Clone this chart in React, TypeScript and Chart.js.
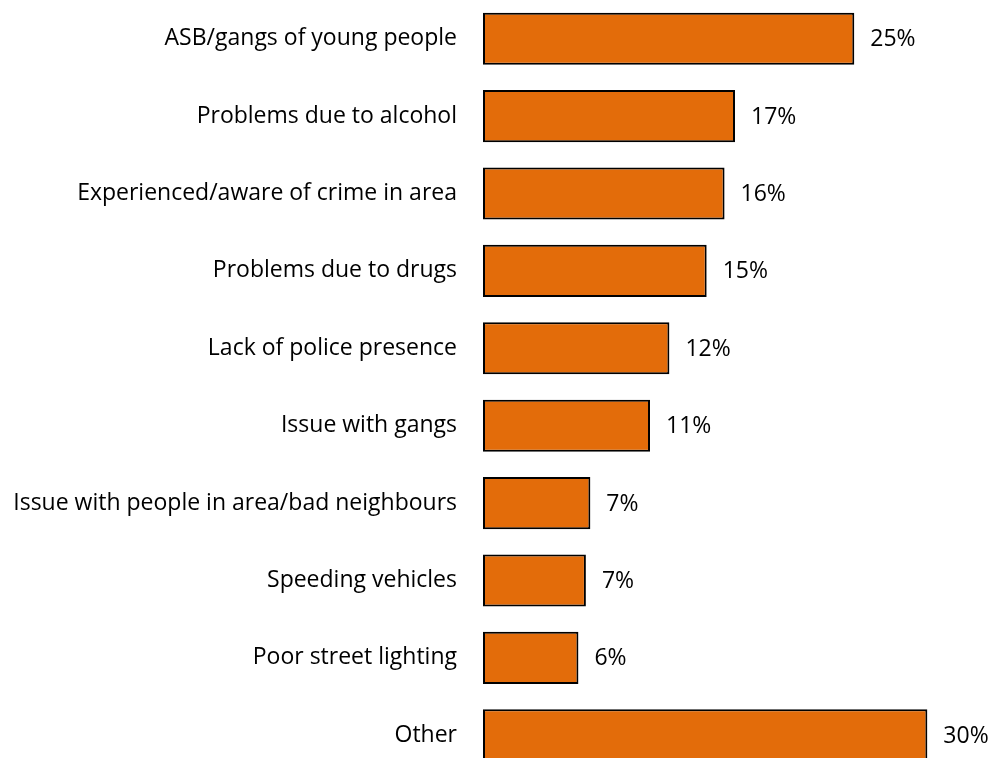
import React, { useEffect, useRef } from "react";
import { Chart, registerables } from "chart.js";

Chart.register(...registerables);

const categories = [
  "ASB/gangs of young people",
  "Problems due to alcohol",
  "Experienced/aware of crime in area",
  "Problems due to drugs",
  "Lack of police presence",
  "Issue with gangs",
  "Issue with people in area/bad neighbours",
  "Speeding vehicles",
  "Poor street lighting",
  "Other",
];
const values = [24.9, 16.9, 16.2, 15.0, 12.5, 11.2, 7.2, 6.9, 6.4, 29.8];
const valueLabels = ["25%", "17%", "16%", "15%", "12%", "11%", "7%", "7%", "6%", "30%"];

const FONT = "'Open Sans', sans-serif";
const FONT_SIZE = 23;

export default function App() {
  const ref = useRef<HTMLCanvasElement | null>(null);
  useEffect(() => {
    if (!ref.current) return;
    const labelPlugin = {
      id: "valueLabels",
      afterDatasetsDraw(chart: any) {
        const ctx = chart.ctx;
        const meta = chart.getDatasetMeta(0);
        ctx.save();
        ctx.fillStyle = "#000";
        ctx.font = `${FONT_SIZE}px ${FONT}`;
        ctx.textAlign = "left";
        ctx.textBaseline = "middle";
        meta.data.forEach((bar: any, i: number) => {
          ctx.fillText(valueLabels[i], bar.x + 16, bar.y + 1);
        });
        ctx.restore();
      },
    };
    const chart = new Chart(ref.current, {
      type: "bar",
      data: {
        labels: categories,
        datasets: [
          {
            data: values,
            backgroundColor: "#E36C0A",
            borderColor: "#000000",
            borderWidth: 2,
            borderSkipped: false,
            barPercentage: 0.673,
            categoryPercentage: 1,
          },
        ],
      },
      options: {
        indexAxis: "y",
        animation: false,
        responsive: false,
        maintainAspectRatio: false,
        layout: { padding: { top: 0, bottom: 0, left: 0, right: 11 } },
        plugins: { legend: { display: false }, tooltip: { enabled: false } },
        scales: {
          x: { display: false, min: 0, max: 34 },
          y: {
            afterFit: (s: any) => {
              s.width = 483;
              s.paddingTop = 0;
              s.paddingBottom = 0;
            },
            grid: { display: false, drawTicks: false },
            border: { display: false },
            ticks: {
              color: "#000",
              padding: 26,
              font: { family: FONT, size: FONT_SIZE },
            },
          },
        },
      },
      plugins: [labelPlugin],
    });
    return () => chart.destroy();
  }, []);
  return (
    <div
      style={{
        position: "fixed",
        left: 0,
        top: 0,
        width: 1001,
        height: 758,
        overflow: "hidden",
        background: "#fff",
      }}
    >
      <canvas ref={ref} width={1001} height={774} style={{ display: "block" }} />
    </div>
  );
}
